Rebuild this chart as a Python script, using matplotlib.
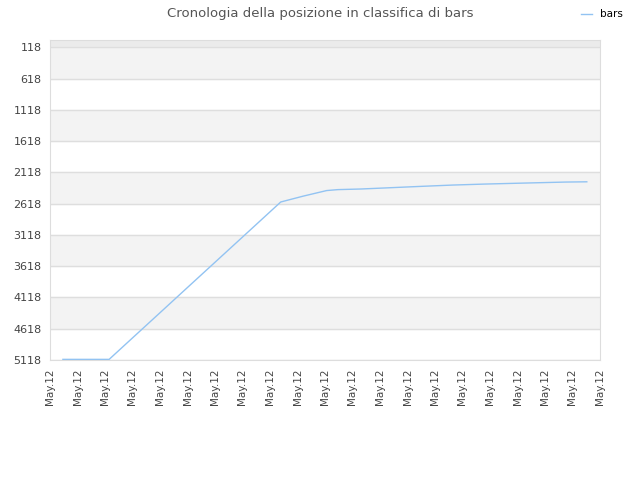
import matplotlib
matplotlib.use("Agg")
import matplotlib.pyplot as plt

# posizione nel tempo (x in unità di tick, tutti "May.12")
x_pos = [0.47, 2.15, 3.0, 4.0, 5.0, 6.0, 7.0, 8.39, 9.2, 10.06, 10.47,
         11.31, 12.15, 12.97, 13.82, 14.64, 15.82, 17.27, 18.76, 19.52]
rank = [5108, 5108, 4765, 4362, 3958, 3555, 3152, 2591, 2498, 2408, 2393,
        2383, 2367, 2351, 2335, 2320, 2304, 2288, 2272, 2268]

y_ticks = [118, 618, 1118, 1618, 2118, 2618, 3118, 3618, 4118, 4618, 5118]
x_labels = ["May.12"] * 21

fig = plt.figure(figsize=(6.4, 4.8), dpi=100)
ax = fig.add_axes([50 / 640, 1 - 360 / 480, 550 / 640, 320 / 480])

ax.set_ylim(5118, 0)
ax.set_xlim(0, 20)

# bande alternate
ax.axhspan(0, 118, color="#ebebeb", zorder=0)
for i in range(len(y_ticks) - 1):
    if i % 2 == 0:
        ax.axhspan(y_ticks[i], y_ticks[i + 1], color="#f3f3f3", zorder=0)
for t in y_ticks:
    ax.axhline(t, color="#dedede", lw=1, zorder=1)

ax.plot(x_pos, rank, color="#92c3f2", lw=1, label="bars", zorder=3)

ax.set_yticks(y_ticks)
ax.set_yticklabels([str(t) for t in y_ticks], fontsize=8, color="#444444")
ax.set_xticks(range(21))
ax.set_xticklabels(x_labels, rotation=90, fontsize=7.5, color="#444444")
ax.tick_params(length=0, pad=6)

for s in ax.spines.values():
    s.set_color("#dddddd")

fig.suptitle("Cronologia della posizione in classifica di bars",
             fontsize=9.5, color="#555555", y=0.985)
fig.legend(loc="upper right", bbox_to_anchor=(0.988, 1.0), frameon=False,
           fontsize=7.5, handlelength=1.0, handletextpad=0.8)

fig.savefig("out.png", dpi=100)
